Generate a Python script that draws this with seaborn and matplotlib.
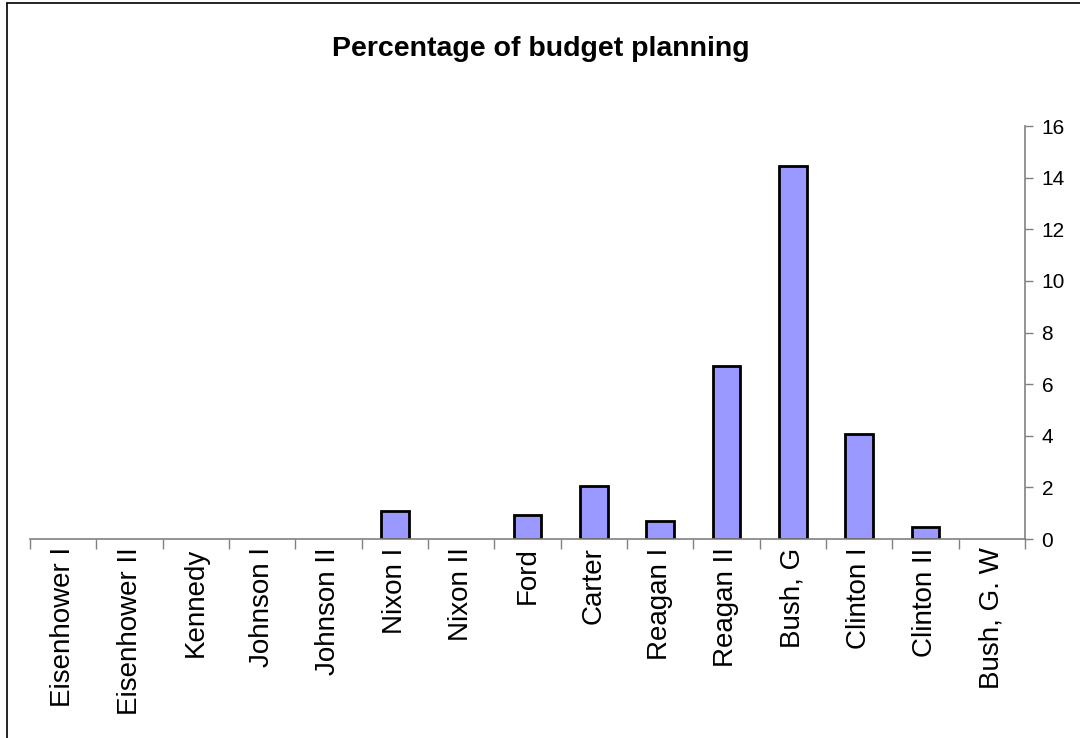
import matplotlib
matplotlib.use("Agg")
import matplotlib.pyplot as plt
import seaborn as sns
import pandas as pd
from matplotlib.lines import Line2D
from matplotlib.ticker import FixedLocator

# %%
presidents = ["Eisenhower I", "Eisenhower II", "Kennedy", "Johnson I", "Johnson II",
              "Nixon I", "Nixon II", "Ford", "Carter", "Reagan I", "Reagan II",
              "Bush, G", "Clinton I", "Clinton II", "Bush, G. W"]
percentages = [0, 0, 0, 0, 0, 1.1, 0, 0.92, 2.06, 0.68, 6.7, 14.45, 4.08, 0.47, 0]
y_ticks = [0, 2, 4, 6, 8, 10, 12, 14, 16]

df = pd.DataFrame({"president": presidents, "pct": percentages})

# %%
sns.set_style("white")
plt.rcParams["font.family"] = ["Liberation Sans", "DejaVu Sans"]

fig = plt.figure(figsize=(10.8, 7.38), dpi=100)
ax = fig.add_axes([0.0278, 0.2696, 0.9212, 0.5596])

sns.barplot(data=df, x="president", y="pct", color="#9999FF", width=0.42,
            edgecolor="black", linewidth=2.0, saturation=1, ax=ax)

# excel draws nothing for empty categories
for p in ax.patches:
    if p.get_height() == 0:
        p.set_visible(False)

ax.set_xlim(-0.5, len(presidents) - 0.5)
ax.set_ylim(0, 16)
ax.set_xlabel("")
ax.set_ylabel("")

# y axis on the right, like the excel chart
ax.yaxis.tick_right()
ax.set_yticks(y_ticks)
ax.tick_params(axis="y", which="major", right=True, left=False, length=6, width=1,
               color="#808080", labelsize=15, pad=6, labelcolor="black")

# category labels, ticks sit between categories
ax.set_xticks(range(len(presidents)))
ax.set_xticklabels(presidents, rotation=90, fontsize=20, va="top", ha="center", color="black")
ax.tick_params(axis="x", which="major", length=0, pad=6)
ax.xaxis.set_minor_locator(FixedLocator([i - 0.5 for i in range(len(presidents) + 1)]))
ax.tick_params(axis="x", which="minor", bottom=True, length=7, width=1, color="#808080")

for side in ["top", "left"]:
    ax.spines[side].set_visible(False)
for side in ["bottom", "right"]:
    ax.spines[side].set_color("#808080")
    ax.spines[side].set_linewidth(1.2)

ax.grid(False)

fig.text(0.501, 0.934, "Percentage of budget planning", ha="center", va="center",
         fontsize=20.5, fontweight="bold", color="black")

# chart frame (only the left and top edges are in view)
fig.add_artist(Line2D([0.0065, 0.0065], [0, 0.996], transform=fig.transFigure,
                      color="black", linewidth=1.2))
fig.add_artist(Line2D([0.0065, 1.0], [0.996, 0.996], transform=fig.transFigure,
                      color="black", linewidth=1.2))

fig.savefig("out.png", dpi=100)
